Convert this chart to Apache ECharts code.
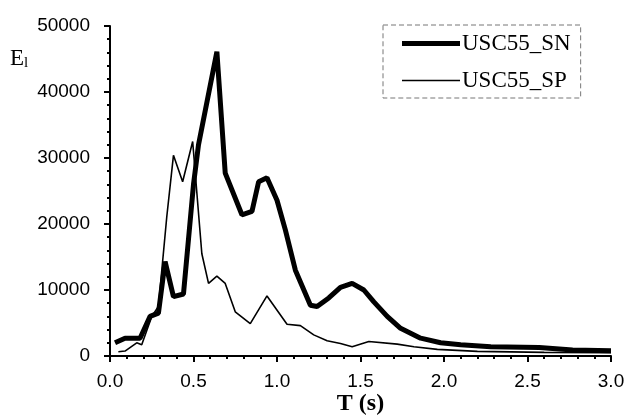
<!DOCTYPE html>
<html>
<head>
<meta charset="utf-8">
<script src="https://cdn.jsdelivr.net/npm/echarts@6/dist/echarts.min.js"></script>
<style>
  html, body { margin: 0; padding: 0; background: #fff; }
  #chart { width: 630px; height: 417px; }
</style>
</head>
<body>
<div id="chart"></div>
<script>
// USC55_SN (thick line): period T (s) and input energy E_l
const snT = [0.03, 0.09, 0.18, 0.24, 0.29, 0.33, 0.38, 0.44, 0.50, 0.53, 0.64, 0.69, 0.79, 0.85, 0.89, 0.94,
  1.00, 1.05, 1.11, 1.20, 1.24, 1.31, 1.38, 1.45, 1.52, 1.58, 1.66, 1.74, 1.86, 1.98, 2.10, 2.28, 2.57, 2.77, 3.00];
const snE = [2000, 2700, 2700, 6000, 6500, 14300, 9000, 9400, 26000, 32000, 46100, 27700, 21400, 21900, 26400, 27000,
  23600, 19100, 13000, 7700, 7500, 8800, 10400, 11000, 10000, 8200, 6000, 4200, 2700, 2000, 1700, 1400, 1300, 900, 800];

// USC55_SP (thin line)
const spT = [0.05, 0.09, 0.16, 0.19, 0.25, 0.29, 0.34, 0.38, 0.435, 0.495, 0.55, 0.59, 0.64, 0.69, 0.75, 0.84,
  0.94, 1.06, 1.14, 1.22, 1.30, 1.38, 1.45, 1.55, 1.72, 1.82, 1.96, 2.20, 2.60, 3.00];
const spE = [650, 750, 2000, 1700, 6000, 7500, 21100, 30400, 26400, 32500, 15500, 11000, 12100, 11000, 6700, 4900,
  9100, 4800, 4600, 3200, 2300, 1900, 1400, 2200, 1800, 1400, 1000, 700, 550, 500];

const xTicks = [0, 0.5, 1.0, 1.5, 2.0, 2.5, 3.0];
const yTicks = [0, 10000, 20000, 30000, 40000, 50000];

const zip = (xs, ys) => xs.map((x, i) => [x, ys[i]]);

const chart = echarts.init(document.getElementById('chart'));

const axisLine = () => ({ show: true, onZero: false, lineStyle: { color: '#000', width: 2 } });
const tick = () => ({ show: true, inside: false, length: 6, lineStyle: { color: '#000', width: 2 } });
const minor = () => ({ show: true, splitNumber: 5, length: 3, lineStyle: { color: '#000', width: 2 } });

const option = {
  animation: false,
  backgroundColor: '#fff',
  title: {
    text: '{e|E}{l|l}',
    left: 5,
    top: 41,
    textStyle: {
      rich: {
        e: { fontFamily: 'Liberation Serif', fontSize: 23, fontWeight: 'normal', color: '#000' },
        l: { fontFamily: 'Liberation Serif', fontSize: 15, fontWeight: 'normal', color: '#000', verticalAlign: 'bottom', padding: [10, 0, 0, 0] }
      }
    }
  },
  grid: { left: 110, right: 19, top: 26, bottom: 61, outerBoundsMode: 'none' },
  legend: {
    orient: 'vertical',
    left: 383,
    top: 25,
    padding: [7, 10, 6, 19],
    itemGap: 14,
    itemWidth: 58,
    itemHeight: 14,
    borderColor: '#777',
    borderWidth: 1,
    borderType: [5, 3],
    textStyle: { fontFamily: 'Liberation Serif', fontSize: 23, color: '#000', padding: [0, 0, 0, -3] },
    data: [
      { name: 'USC55_SN', icon: 'path://M0,0H58V5H0Z', itemStyle: { color: '#000' } },
      { name: 'USC55_SP', icon: 'path://M0,0H58V1.5H0Z', itemStyle: { color: '#000' } }
    ]
  },
  xAxis: {
    type: 'value',
    min: xTicks[0],
    max: xTicks[xTicks.length - 1],
    interval: 0.5,
    name: 'T (s)',
    nameLocation: 'middle',
    nameGap: 36,
    nameMoveOverlap: false,
    nameTextStyle: { fontFamily: 'Liberation Serif', fontSize: 24, fontWeight: 'bold', color: '#000' },
    axisLine: axisLine(),
    axisTick: tick(),
    minorTick: minor(),
    splitLine: { show: false },
    axisLabel: {
      margin: 16,
      color: '#000',
      fontFamily: 'Liberation Sans',
      fontSize: 19,
      formatter: v => v.toFixed(1)
    }
  },
  yAxis: {
    type: 'value',
    min: yTicks[0],
    max: yTicks[yTicks.length - 1],
    interval: 10000,
    axisLine: axisLine(),
    axisTick: tick(),
    minorTick: minor(),
    splitLine: { show: false },
    axisLabel: {
      margin: 20,
      color: '#000',
      fontFamily: 'Liberation Sans',
      fontSize: 19,
      formatter: v => String(v)
    }
  },
  series: [
    {
      name: 'USC55_SN',
      type: 'line',
      data: zip(snT, snE),
      showSymbol: false,
      symbol: 'none',
      lineStyle: { color: '#000', width: 5 },
      itemStyle: { color: '#000' },
      z: 3
    },
    {
      name: 'USC55_SP',
      type: 'line',
      data: zip(spT, spE),
      showSymbol: false,
      symbol: 'none',
      lineStyle: { color: '#000', width: 1.6 },
      itemStyle: { color: '#000' },
      z: 2
    }
  ]
};

chart.setOption(option);
</script>
</body>
</html>
